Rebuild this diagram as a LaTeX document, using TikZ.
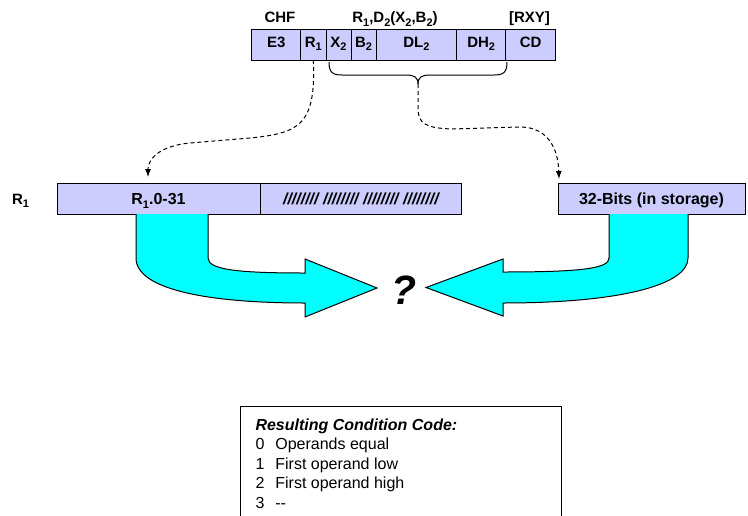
\documentclass[tikz,border=0pt]{standalone}
\usepackage{fontspec}
\setmainfont{Liberation Sans}
\usetikzlibrary{positioning,arrows.meta}
\definecolor{lav}{RGB}{204,204,255}
\definecolor{aqua}{RGB}{0,255,255}
\newcommand\lo[1]{\raisebox{-0.45ex}{\fontsize{11}{11}\selectfont#1}}
\tikzset{
  cell/.style={draw,fill=lav,minimum height=31pt,inner sep=0pt,outer sep=0pt,
    text height=10pt,text depth=5pt,font=\bfseries\fontsize{15}{18}\selectfont},
  reg/.style={draw,fill=lav,minimum height=31pt,inner sep=0pt,outer sep=0pt,
    text height=11.5pt,text depth=0pt,font=\bfseries\fontsize{16}{19}\selectfont},
  lbl/.style={anchor=base,inner sep=0pt,font=\bfseries\fontsize{15}{18}\selectfont},
  link/.style={dash pattern=on 4pt off 3pt,-{Latex[length=8pt,width=6pt]}},
  fatarrow/.style={draw,fill=aqua}
}
\begin{document}
\begin{tikzpicture}[x=1pt,y=-1pt,line width=1pt]
\useasboundingbox (0,0) rectangle (748,515);

% instruction format
\node(chf) at (280,22.7)[lbl] {CHF};
\node(ops) at (395,22.7)[lbl] {R\lo{1},D\lo{2}(X\lo{2},B\lo{2})};
\node(rxy) at (529.5,22.7)[lbl] {[RXY]};

\node(e3) at (276.2,44.5)[cell,minimum width=49pt] {E3};
\node(r1)[cell,minimum width=25.3pt,right=0pt of e3] {R\lo{1}};
\node(x2)[cell,minimum width=25pt,right=0pt of r1] {X\lo{2}};
\node(b2)[cell,minimum width=25pt,right=0pt of x2] {B\lo{2}};
\node(dl2)[cell,minimum width=80.7pt,right=0pt of b2] {DL\lo{2}};
\node(dh2)[cell,minimum width=49pt,right=0pt of dl2] {DH\lo{2}};
\node(cd)[cell,minimum width=50pt,right=0pt of dh2] {CD};

% brace under X2..DH2
\coordinate(brtip) at (418,84);
\draw (329,62) .. controls (329,72) and (332,75) .. (342,75) -- (406,75)
  .. controls (414,75) and (418,77) .. (brtip);
\draw (507,62) .. controls (507,72) and (504,75) .. (494,75) -- (430,75)
  .. controls (422,75) and (418,77) .. (brtip);

% register and storage
\node(r1lbl) at (20.5,204)[anchor=base,inner sep=0pt,font=\bfseries\fontsize{15}{18}\selectfont] {R\lo{1}};
\node(reg) at (158.5,198.5)[reg,minimum width=203pt] {R\lo{1}.0-31};
\node(hatch)[reg,minimum width=201.7pt,right=0pt of reg,font=\bfseries\itshape\fontsize{16}{19}\selectfont] {//////// //////// //////// ////////};
\node(stor) at (651.5,198.5)[reg,minimum width=187pt] {32-Bits (in storage)};

\coordinate(regtip) at (148,177);
\coordinate(stortip) at (559,179);
\draw[link] (r1.south) .. controls (316,125) and (300,133) .. (250,138) -- (190,143)
  .. controls (158,146) and (148,160) .. (regtip);
\draw[link] (brtip) -- (418,108) .. controls (418,124) and (426,128) .. (452,129) -- (518,127)
  .. controls (545,126) and (558,145) .. (stortip);

% compare arrows
\draw[fatarrow] (136,214) -- (136,258) .. controls (136,290) and (210,303) .. (305,303)
  -- (305,317) -- (377,288) -- (305,259) -- (305,273)
  .. controls (240,273) and (208,270) .. (208,258) -- (208,214);
\draw[fatarrow] (609,214) -- (609,258) .. controls (609,268) and (585,272) .. (503,272)
  -- (503,259) -- (426,287.5) -- (503,316) -- (503,303)
  .. controls (620,303) and (688,285) .. (688,258) -- (688,214);
\node(q) at (404,290)[font=\bfseries\itshape\fontsize{41}{41}\selectfont] {?};

% condition code
\draw (240.7,530) -- (240.7,406.7) -- (561.7,406.7) -- (561.7,530);
\node(cc) at (255,430)[anchor=base west,inner sep=0pt,font=\fontsize{16}{19.5}\selectfont]
  {\begin{tabular}[t]{@{}l@{\hspace{11pt}}l@{}}
   \multicolumn{2}{@{}l}{\bfseries\itshape Resulting Condition Code:}\\
   0 & Operands equal\\
   1 & First operand low\\
   2 & First operand high\\
   3 & -{}-
   \end{tabular}};

\end{tikzpicture}
\end{document}
